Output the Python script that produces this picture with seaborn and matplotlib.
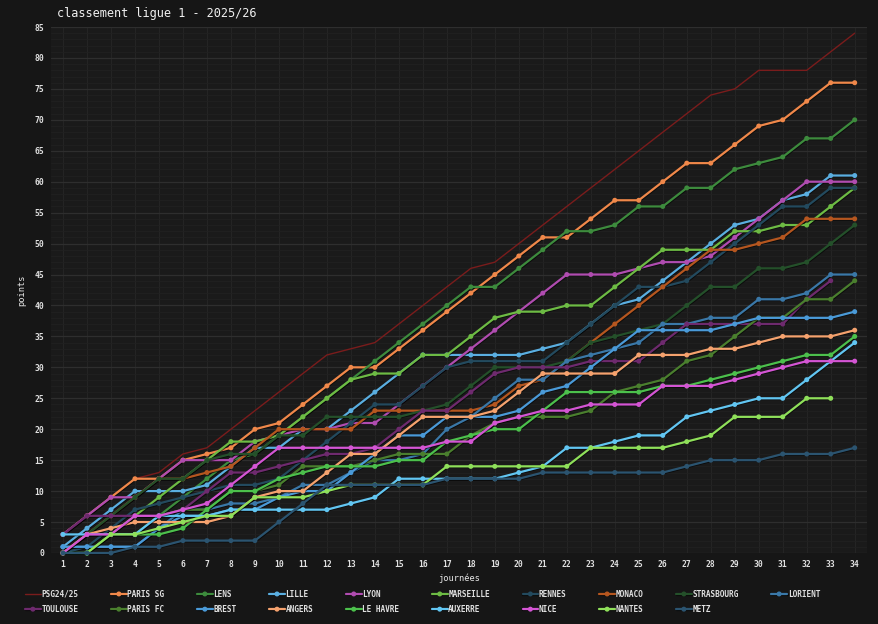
import numpy as np
import pandas as pd
import matplotlib.pyplot as plt
import seaborn as sns
from matplotlib.ticker import MultipleLocator
import matplotlib.patheffects as pe

nan = np.nan
journees = list(range(1, 35))

##Points cumules par journee
psg_2425   = [3,6,9,12,13,16,17,20,23,26,29,32,33,34,37,40,43,46,47,50,53,56,59,62,65,68,71,74,75,78,78,78,81,84]
paris_sg   = [3,6,9,12,12,15,16,17,20,21,24,27,30,30,33,36,39,42,45,48,51,51,54,57,57,60,63,63,66,69,70,73,76,76]
lens       = [0,3,3,3,6,9,12,15,16,19,22,25,28,31,34,37,40,43,43,46,49,52,52,53,56,56,59,59,62,63,64,67,67,70]
lille      = [1,4,7,10,10,10,11,14,17,17,20,20,23,26,29,32,32,32,32,32,33,34,37,40,41,44,47,50,53,54,57,58,61,61]
lyon       = [3,6,9,9,12,15,15,15,18,19,20,20,21,21,24,27,30,33,36,39,42,45,45,45,46,47,47,48,51,54,57,60,60,60]
marseille  = [0,0,3,6,9,12,15,18,18,19,22,25,28,29,29,32,32,35,38,39,39,40,40,43,46,49,49,49,52,52,53,53,56,59]
rennes     = [0,1,4,7,8,9,10,11,11,12,15,18,21,24,24,27,30,31,31,31,31,34,37,40,43,43,44,47,50,53,56,56,59,59]
monaco     = [0,3,6,9,12,12,13,14,17,20,20,20,20,23,23,23,23,23,24,27,28,31,34,37,40,43,46,49,49,50,51,54,54,54]
strasbourg = [0,3,6,9,12,12,15,16,16,19,19,22,22,22,22,23,24,27,30,30,30,31,34,35,36,37,40,43,43,46,46,47,50,53]
lorient    = [1,1,1,1,4,7,7,8,8,9,11,11,13,15,15,16,20,22,25,28,28,31,32,33,34,37,37,38,38,41,41,42,45,45]
toulouse   = [3,6,6,6,6,7,10,13,13,14,15,16,16,17,20,23,23,26,29,30,30,30,31,31,31,34,37,37,37,37,37,41,44,nan]
paris_fc   = [0,3,3,3,6,7,7,10,10,11,14,14,14,15,16,16,16,19,21,22,22,22,23,26,27,28,31,32,35,38,38,41,41,44]
brest      = [1,1,1,1,4,6,6,7,7,9,10,10,13,16,19,19,22,22,22,23,26,27,30,33,36,36,36,36,37,38,38,38,38,39]
angers     = [0,3,4,5,5,5,5,6,9,10,10,13,16,16,19,22,22,22,23,26,29,29,29,29,32,32,32,33,33,34,35,35,35,36]
le_havre   = [0,0,3,3,3,4,7,10,10,12,13,14,14,14,15,15,18,19,20,20,23,26,26,26,26,27,27,28,29,30,31,32,32,35]
auxerre    = [3,3,3,3,6,6,6,7,7,7,7,7,8,9,12,12,12,12,12,13,14,17,17,18,19,19,22,23,24,25,25,28,31,34]
nice       = [0,3,3,6,6,7,8,11,14,17,17,17,17,17,17,17,18,18,21,22,23,23,24,24,24,27,27,27,28,29,30,31,31,31]
nantes     = [nan,0,3,3,4,5,6,6,9,9,9,10,11,11,11,11,14,14,14,14,14,14,17,17,17,17,18,19,22,22,22,25,25,nan]
metz       = [0,0,0,1,1,2,2,2,2,5,8,11,11,11,11,11,12,12,12,12,13,13,13,13,13,13,14,15,15,15,16,16,16,17]

equipes = ["PSG24/25", "PARIS SG", "LENS", "LILLE", "LYON", "MARSEILLE", "RENNES",
           "MONACO", "STRASBOURG", "LORIENT", "TOULOUSE", "PARIS FC", "BREST",
           "ANGERS", "LE HAVRE", "AUXERRE", "NICE", "NANTES", "METZ"]
points = [psg_2425, paris_sg, lens, lille, lyon, marseille, rennes, monaco,
          strasbourg, lorient, toulouse, paris_fc, brest, angers, le_havre,
          auxerre, nice, nantes, metz]
couleurs = ["#7a1c1c", "#f0884a", "#3d8b3d", "#5aaee0", "#b04cb0", "#6dbb44",
            "#234a5e", "#b5561f", "#24502a", "#3a78a8", "#6e2a6e", "#4a7f2e",
            "#4a9ad8", "#f5a26e", "#4cc04c", "#62c6f2", "#d455d4", "#8fe05a",
            "#2b5470"]

##Long format
df = pd.DataFrame({"journee": np.tile(journees, len(equipes)),
                   "equipe": np.repeat(equipes, len(journees)),
                   "points": np.concatenate(points)}).dropna()

sns.set_theme(style="dark")
plt.rcParams["font.family"] = ["DejaVu Sans Mono", "DejaVu Sans"]

bg = "#161616"
fig = plt.figure(figsize=(8.79, 6.24), dpi=100, facecolor=bg)
ax = fig.add_axes([0.058, 0.1138, 0.928, 0.8429])
ax.set_facecolor("#1a1a1a")

shadow = [pe.SimpleLineShadow(offset=(0.5, -0.5), shadow_color="black", alpha=0.6), pe.Normal()]

for eq, col in zip(equipes, couleurs):
    d = df[df["equipe"] == eq]
    if eq == "PSG24/25":
        sns.lineplot(data=d, x="journee", y="points", ax=ax, color=col, lw=1,
                     label=eq, clip_on=False)
    else:
        sns.lineplot(data=d, x="journee", y="points", ax=ax, color=col, lw=1.6,
                     marker="o", markersize=3.6, markeredgewidth=0,
                     label=eq, clip_on=False, path_effects=shadow)

ax.set_xlim(0.5, 34.5)
ax.set_ylim(0, 85)
ax.set_xticks(journees)
ax.yaxis.set_major_locator(MultipleLocator(5))
ax.yaxis.set_minor_locator(MultipleLocator(1))
ax.grid(which="major", axis="y", color="#2e2e2e", lw=0.9)
ax.grid(which="minor", axis="y", color="#212121", lw=0.6)
ax.grid(which="major", axis="x", color="#252525", lw=0.7)
ax.set_axisbelow(True)
for s in ax.spines.values():
    s.set_visible(False)
ax.tick_params(which="both", length=0, colors="#e0e0e0", labelsize=5.8, pad=5)
for t in ax.get_xticklabels() + ax.get_yticklabels():
    t.set_fontweight("bold")

ax.set_xlabel("journées", color="#e8e8e8", fontsize=6.2, labelpad=3)
ax.set_ylabel("points", color="#e8e8e8", fontsize=6.2, labelpad=6)

fig.text(0.065, 0.979, "classement ligue 1 - 2025/26", color="#f0f0f0",
         fontsize=8.6, va="center", ha="left")

##Legend row by row, 10 columns
handles, labels = ax.get_legend_handles_labels()
if ax.get_legend() is not None:
    ax.get_legend().remove()
r1, r2 = list(range(10)), list(range(10, 19))
order = []
for i in range(10):
    order.append(r1[i])
    if i < len(r2):
        order.append(r2[i])
leg = fig.legend([handles[i] for i in order], [labels[i] for i in order],
                 ncol=10, loc="upper left", bbox_to_anchor=(0.025, 0.06),
                 frameon=False, fontsize=5.6, handlelength=2.0, handletextpad=0.1,
                 columnspacing=4.2, labelspacing=0.8, borderaxespad=0)
for t in leg.get_texts():
    t.set_color("#e0e0e0")
    t.set_fontweight("bold")

fig.savefig("out.png", dpi=100, facecolor=bg)
